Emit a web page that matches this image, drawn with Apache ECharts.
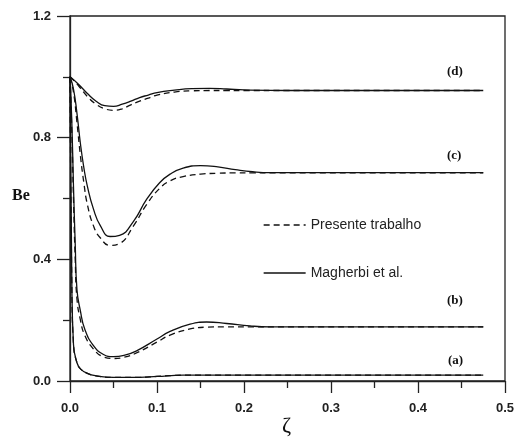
<!DOCTYPE html>
<html>
<head>
<meta charset="utf-8">
<script src="https://cdn.jsdelivr.net/npm/echarts@6/dist/echarts.min.js"></script>
<style>
  html, body { margin: 0; padding: 0; background: #fff; }
  #chart { width: 519px; height: 438px; }
</style>
</head>
<body>
<div id="chart"></div>
<script>
// zeta / Be pairs
var dZeta = [0, 0.01, 0.02, 0.03, 0.04, 0.05, 0.06, 0.07, 0.08, 0.09, 0.10, 0.12, 0.14, 0.16, 0.18, 0.20, 0.25, 0.475];
var dSolid = [1.0, 0.975, 0.945, 0.92, 0.905, 0.903, 0.91, 0.92, 0.932, 0.94, 0.948, 0.956, 0.961, 0.962, 0.96, 0.957, 0.955, 0.955];
var dDash = [1.0, 0.97, 0.935, 0.91, 0.895, 0.89, 0.895, 0.908, 0.92, 0.93, 0.94, 0.95, 0.954, 0.955, 0.955, 0.955, 0.955, 0.955];

var cZeta = [0, 0.004, 0.008, 0.012, 0.016, 0.02, 0.027, 0.035, 0.046, 0.057, 0.073, 0.088, 0.103, 0.115, 0.13, 0.15, 0.17, 0.19, 0.21, 0.23, 0.475];
var cSolid = [1.0, 0.96, 0.88, 0.78, 0.70, 0.64, 0.565, 0.51, 0.475, 0.479, 0.525, 0.597, 0.652, 0.68, 0.70, 0.708, 0.704, 0.695, 0.688, 0.685, 0.685];
var cDash = [1.0, 0.95, 0.85, 0.74, 0.65, 0.58, 0.51, 0.47, 0.446, 0.452, 0.51, 0.58, 0.633, 0.658, 0.672, 0.68, 0.683, 0.684, 0.684, 0.684, 0.684];

var bZeta = [0, 0.002, 0.004, 0.006, 0.008, 0.012, 0.017, 0.027, 0.038, 0.05, 0.062, 0.077, 0.10, 0.115, 0.138, 0.157, 0.18, 0.207, 0.23, 0.475];
var bSolid = [1.0, 0.86, 0.64, 0.45, 0.30, 0.23, 0.17, 0.116, 0.088, 0.08, 0.084, 0.10, 0.138, 0.163, 0.187, 0.194, 0.189, 0.181, 0.178, 0.178];
var bDash = [1.0, 0.83, 0.60, 0.40, 0.27, 0.20, 0.15, 0.105, 0.08, 0.074, 0.078, 0.093, 0.128, 0.151, 0.171, 0.177, 0.178, 0.178, 0.178, 0.178];

var aZeta = [0, 0.002, 0.004, 0.008, 0.012, 0.02, 0.03, 0.05, 0.08, 0.10, 0.13, 0.475];
var aSolid = [1.0, 0.35, 0.12, 0.06, 0.04, 0.025, 0.017, 0.012, 0.012, 0.015, 0.019, 0.019];
var aDash = [1.0, 0.34, 0.12, 0.06, 0.04, 0.025, 0.017, 0.012, 0.012, 0.015, 0.019, 0.019];

var curveTags = ['(d)', '(c)', '(b)', '(a)'];
var legendNames = ['Presente trabalho', 'Magherbi et al.'];
var xTicks = [0, 0.1, 0.2, 0.3, 0.4, 0.5];
var yTicks = [0, 0.4, 0.8, 1.2];

function pairs(xs, ys) {
  return xs.map(function (x, i) { return [x, ys[i]]; });
}

function curve(name, xs, ys, dashed) {
  return {
    name: name,
    type: 'line',
    data: pairs(xs, ys),
    symbol: 'none',
    smooth: 0.5,
    color: '#111',
    lineStyle: { color: '#111', width: 1.3, type: dashed ? [6, 4] : 'solid' },
    z: dashed ? 3 : 2
  };
}

var chart = echarts.init(document.getElementById('chart'));

var series = [
  curve(legendNames[1], dZeta, dSolid, false),
  curve(legendNames[0], dZeta, dDash, true),
  curve(legendNames[1], cZeta, cSolid, false),
  curve(legendNames[0], cZeta, cDash, true),
  curve(legendNames[1], bZeta, bSolid, false),
  curve(legendNames[0], bZeta, bDash, true),
  curve(legendNames[1], aZeta, aSolid, false),
  curve(legendNames[0], aZeta, aDash, true)
];

var tagFont = 'bold 13px "Liberation Serif", serif';

chart.setOption({
  backgroundColor: '#fff',
  animation: false,
  grid: {
    left: 70, right: 14, top: 16, bottom: 57,
    show: true, borderColor: '#222', borderWidth: 1.3
  },
  legend: {
    data: legendNames,
    orient: 'vertical',
    left: 258, top: 213,
    itemWidth: 42, itemHeight: 10, itemGap: 34,
    itemStyle: { opacity: 0 },
    lineStyle: { width: 1.3 },
    textStyle: { fontFamily: '"Liberation Sans", Arial, sans-serif', fontSize: 14, color: '#222' }
  },
  xAxis: {
    type: 'value',
    min: xTicks[0], max: xTicks[xTicks.length - 1], interval: 0.1,
    axisLine: { lineStyle: { color: '#222', width: 1.3 } },
    axisTick: { length: 12, lineStyle: { color: '#222', width: 1.3 } },
    minorTick: { show: true, splitNumber: 2, length: 7, lineStyle: { color: '#222', width: 1.3 } },
    splitLine: { show: false },
    axisLabel: {
      margin: 21,
      fontFamily: '"Liberation Sans", Arial, sans-serif', fontSize: 13, fontWeight: 'bold', color: '#222',
      formatter: function (v) { return v.toFixed(1); }
    }
  },
  yAxis: {
    type: 'value',
    min: yTicks[0], max: yTicks[yTicks.length - 1], interval: 0.4,
    axisLine: { lineStyle: { color: '#222', width: 1.3 } },
    axisTick: { length: 13, lineStyle: { color: '#222', width: 1.3 } },
    minorTick: { show: true, splitNumber: 2, length: 7, lineStyle: { color: '#222', width: 1.3 } },
    splitLine: { show: false },
    axisLabel: {
      margin: 19,
      fontFamily: '"Liberation Sans", Arial, sans-serif', fontSize: 13, fontWeight: 'bold', color: '#222',
      formatter: function (v) { return v.toFixed(1); }
    }
  },
  graphic: [
    { type: 'text', left: 12, top: 188, style: { text: 'Be', font: 'bold 16px "Liberation Serif", serif', fill: '#111' } },
    { type: 'text', left: 282, top: 415, style: { text: 'ζ', font: '22px "Liberation Serif", serif', fill: '#111' } },
    { type: 'text', left: 447, top: 65, style: { text: curveTags[0], font: tagFont, fill: '#111' } },
    { type: 'text', left: 447, top: 149, style: { text: curveTags[1], font: tagFont, fill: '#111' } },
    { type: 'text', left: 447, top: 294, style: { text: curveTags[2], font: tagFont, fill: '#111' } },
    { type: 'text', left: 448, top: 354, style: { text: curveTags[3], font: tagFont, fill: '#111' } }
  ],
  series: series
});
</script>
</body>
</html>
